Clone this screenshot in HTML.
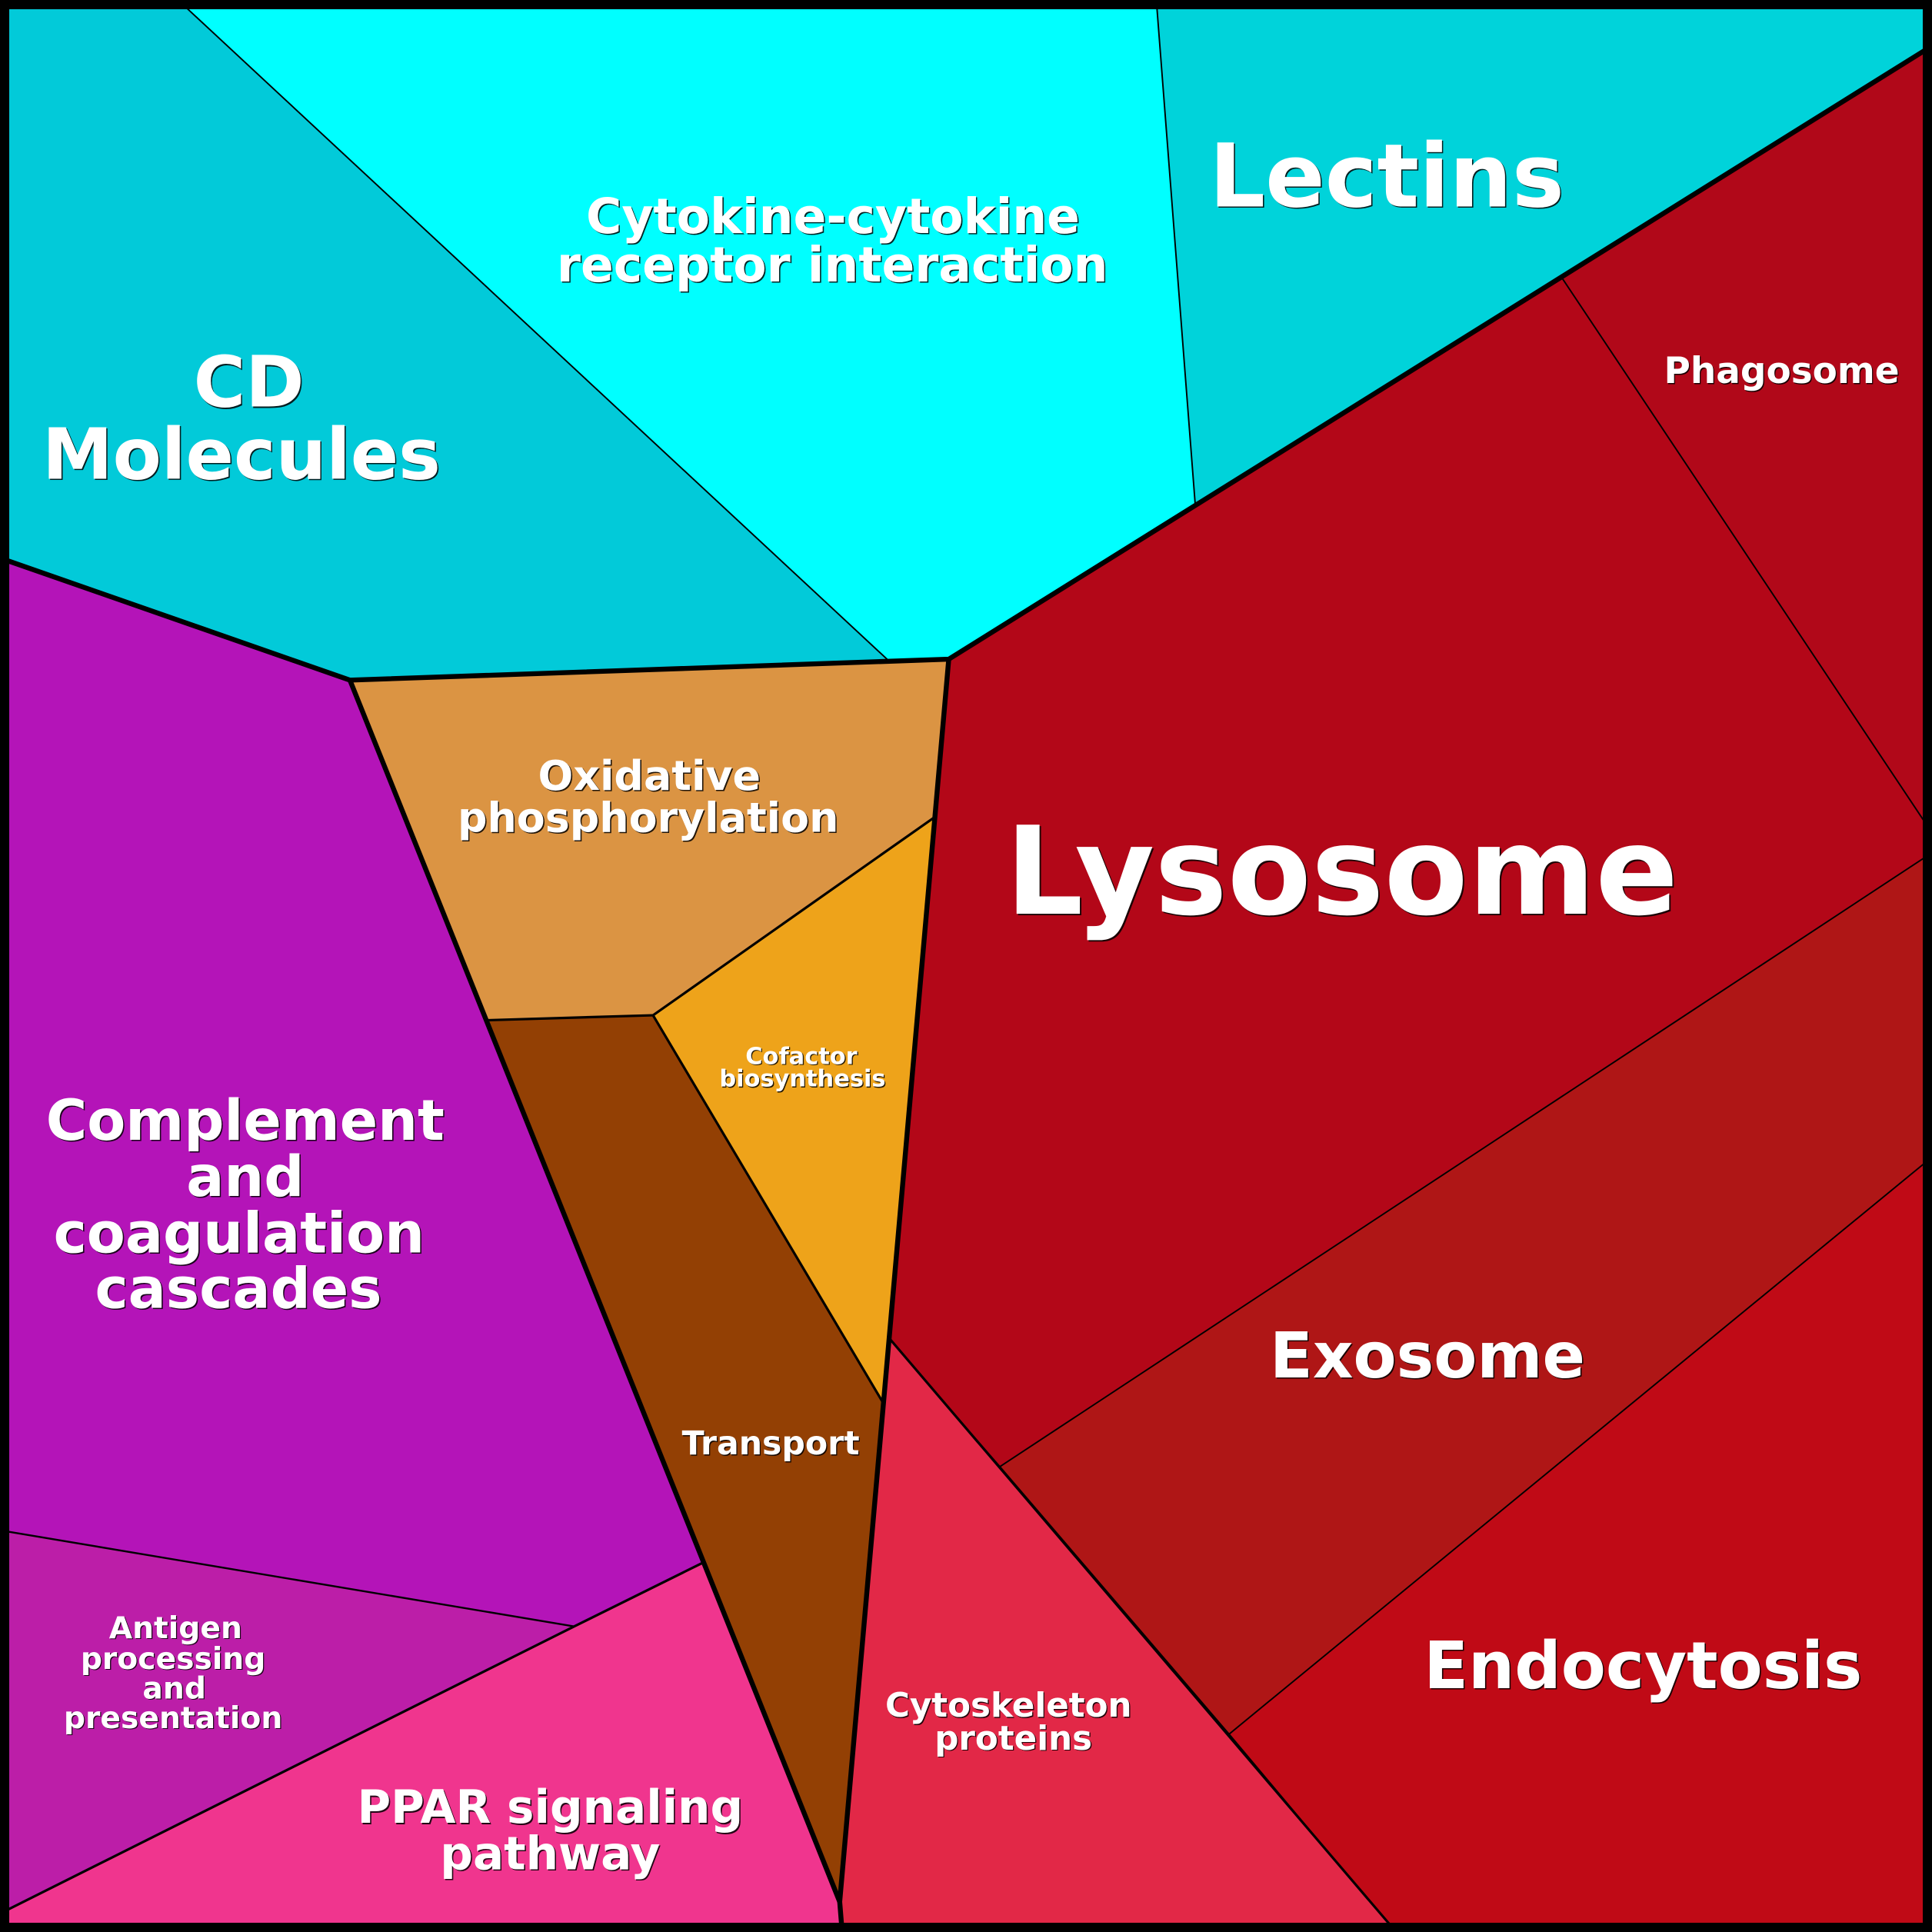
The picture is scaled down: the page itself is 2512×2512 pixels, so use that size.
<!DOCTYPE html>
<html>
<head>
<meta charset="utf-8">
<style>
html,body{margin:0;padding:0;background:#000;}
svg{display:block;}
text{font-family:"DejaVu Sans","Liberation Sans",sans-serif;font-weight:bold;text-anchor:middle;}
.s{fill:#000;opacity:0.85;}
.w{fill:#fff;}
</style>
</head>
<body>
<svg xmlns="http://www.w3.org/2000/svg" width="2512" height="2512" viewBox="0 0 1568 1568">
<!-- regions -->
<polygon fill="#02CAD9" points="0,0 145,0 721,536 770,535 284,552 0,453"/>
<polygon fill="#00FFFF" points="145,0 938.5,0 970,409 770,535 721,536"/>
<polygon fill="#00D3DA" points="938.5,0 1568,0 1568,37.3 970,409"/>
<polygon fill="#B10819" points="1268,226 1568,37.3 1568,676"/>
<polygon fill="#B30718" points="770,535 1268,226 1568,676 1568,692 812,1190 721.6,1086"/>
<polygon fill="#AF1616" points="812,1190 1568,692 1568,939 998,1407"/>
<polygon fill="#C00A16" points="998,1407 1568,939 1568,1568 1133,1568"/>
<polygon fill="#E22847" points="721.6,1086 1133,1568 684,1568 683,1562 681.5,1543.5"/>
<polygon fill="#DB9443" points="284,552 770,535 758.8,663 530,824 395,828"/>
<polygon fill="#EEA31A" points="758.8,663 717,1139 530,824"/>
<polygon fill="#934004" points="395,828 530,824 717,1139 681.5,1543.5"/>
<polygon fill="#B414B8" points="0,453 284,552 571,1268 466,1320 0,1242"/>
<polygon fill="#BC1EA8" points="0,1242 466,1320 0,1553"/>
<polygon fill="#F0358E" points="466,1320 571,1268 681.5,1543.5 683,1562 684,1568 0,1568 0,1553"/>

<!-- thin lines -->
<g stroke="#000" fill="none" stroke-linecap="round">
<line x1="152" y1="7" x2="721" y2="536" stroke-width="1.2"/>
<line x1="939" y1="7" x2="970" y2="409" stroke-width="1.2"/>
<line x1="1268" y1="226" x2="1562" y2="667" stroke-width="1.2"/>
<line x1="812" y1="1190" x2="1562" y2="696" stroke-width="1.2"/>
<line x1="998" y1="1407" x2="1562" y2="944" stroke-width="1.2"/>
<line x1="6" y1="1243" x2="466" y2="1320" stroke-width="1.5"/>
<polyline points="571,1268 466,1320 6,1550" stroke-width="2"/>
<line x1="721.6" y1="1086" x2="1128" y2="1562" stroke-width="2"/>
<polyline points="758.8,663 530,824 717,1139" stroke-width="2"/>
<line x1="395" y1="828" x2="530" y2="824" stroke-width="2"/>
</g>
<!-- thick lines -->
<g stroke="#000" fill="none" stroke-width="4" stroke-linejoin="round" stroke-linecap="round">
<polyline points="6,455 284,552 770,535 1562,41"/>
<polyline points="770,535 681.5,1543.5 683,1562"/>
<line x1="284" y1="552" x2="681.5" y2="1543.5"/>
</g>
<!-- border -->
<rect x="0" y="0" width="1568" height="1568" fill="none" stroke="#000" stroke-width="15"/>

<!-- labels -->
<g font-size="99.2"><text class="s" x="1090.2" y="742.8">Lysosome</text><text class="w" x="1089" y="741.6">Lysosome</text></g>
<g font-size="71.4"><text class="s" x="1126.5" y="168.5">Lectins</text><text class="w" x="1125.5" y="167.5">Lectins</text></g>
<g font-size="29.3"><text class="s" x="1446.8" y="311.8">Phagosome</text><text class="w" x="1446" y="311">Phagosome</text></g>
<g font-size="57.5">
<text class="s" x="203" y="331">CD</text><text class="w" x="202" y="330">CD</text>
<text class="s" x="197" y="389.5">Molecules</text><text class="w" x="196" y="388.5">Molecules</text>
</g>
<g font-size="39.4">
<text class="s" x="677" y="190">Cytokine-cytokine</text><text class="w" x="676" y="189">Cytokine-cytokine</text>
<text class="s" x="676.5" y="229.5">receptor interaction</text><text class="w" x="675.5" y="228.5">receptor interaction</text>
</g>
<g font-size="33.6">
<text class="s" x="528" y="642">Oxidative</text><text class="w" x="527" y="641">Oxidative</text>
<text class="s" x="527" y="676">phosphorylation</text><text class="w" x="526" y="675">phosphorylation</text>
</g>
<g font-size="19">
<text class="s" x="651.2" y="864.3">Cofactor</text><text class="w" x="650.4" y="863.5">Cofactor</text>
<text class="s" x="652.1" y="882.6">biosynthesis</text><text class="w" x="651.3" y="881.8">biosynthesis</text>
</g>
<g font-size="45.5">
<text class="s" x="200" y="926">Complement</text><text class="w" x="199" y="925">Complement</text>
<text class="s" x="200" y="971.5">and</text><text class="w" x="199" y="970.5">and</text>
<text class="s" x="195" y="1017.5">coagulation</text><text class="w" x="194" y="1016.5">coagulation</text>
<text class="s" x="194.5" y="1062.5">cascades</text><text class="w" x="193.5" y="1061.5">cascades</text>
</g>
<g font-size="26.6"><text class="s" x="626.3" y="1181.3">Transport</text><text class="w" x="625.5" y="1180.5">Transport</text></g>
<g font-size="24.5">
<text class="s" x="143.3" y="1330.3">Antigen</text><text class="w" x="142.5" y="1329.5">Antigen</text>
<text class="s" x="141.3" y="1355.3">processing</text><text class="w" x="140.5" y="1354.5">processing</text>
<text class="s" x="142.3" y="1379.3">and</text><text class="w" x="141.5" y="1378.5">and</text>
<text class="s" x="141.3" y="1403.3">presentation</text><text class="w" x="140.5" y="1402.5">presentation</text>
</g>
<g font-size="37.2">
<text class="s" x="447.5" y="1480.5">PPAR signaling</text><text class="w" x="446.5" y="1479.5">PPAR signaling</text>
<text class="s" x="447.5" y="1518">pathway</text><text class="w" x="446.5" y="1517">pathway</text>
</g>
<g font-size="27.2">
<text class="s" x="819.3" y="1394.1">Cytoskeleton</text><text class="w" x="818.5" y="1393.3">Cytoskeleton</text>
<text class="s" x="823.3" y="1420.8">proteins</text><text class="w" x="822.5" y="1420">proteins</text>
</g>
<g font-size="51"><text class="s" x="1159.5" y="1119">Exosome</text><text class="w" x="1158.5" y="1118">Exosome</text></g>
<g font-size="52.8"><text class="s" x="1334.5" y="1371">Endocytosis</text><text class="w" x="1333.5" y="1370">Endocytosis</text></g>
</svg>
</body>
</html>
